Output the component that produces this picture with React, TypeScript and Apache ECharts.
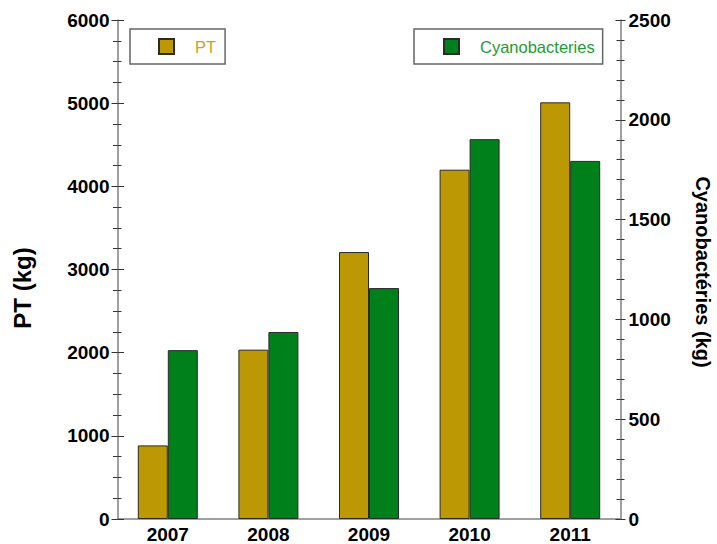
import React, { useEffect, useRef } from "react";
import * as echarts from "echarts";

const years = ["2007", "2008", "2009", "2010", "2011"];
const ptValues = [885, 2036, 3210, 4200, 5010];
const cyanoValues = [846, 937, 1157, 1903, 1794];
const leftTicks = { min: 0, max: 6000, interval: 1000 };
const rightTicks = { min: 0, max: 2500, interval: 500 };

const FONT = "Liberation Sans, Arial, sans-serif";
const PT_COLOR = "#bb9804";
const CY_COLOR = "#00801a";
const AXIS_COLOR = "#808080";

export default function App() {
  const ref = useRef<HTMLDivElement>(null);
  useEffect(() => {
    if (!ref.current) return;
    const chart = echarts.init(ref.current, null, { renderer: "svg" });
    const tickLabel = { fontFamily: FONT, fontSize: 19, fontWeight: "bold", color: "#000" };
    const mkY = (t: any, position: string, inside: boolean, labels: boolean, minorSplit: number, len: number, mlen: number, showLine: boolean) => ({
      type: "value",
      position,
      min: t.min,
      max: t.max,
      interval: t.interval,
      axisLine: { show: showLine, lineStyle: { color: AXIS_COLOR, width: 1.5 } },
      axisTick: { show: true, inside, length: len, lineStyle: { color: "#333", width: 1 } },
      minorTick: { show: true, splitNumber: minorSplit, length: mlen, lineStyle: { color: "#333", width: 1 } },
      axisLabel: { show: labels, margin: 8, formatter: (v: number) => String(v), ...tickLabel },
      splitLine: { show: false },
      minorSplitLine: { show: false },
    });
    chart.setOption({
      animation: false,
      backgroundColor: "#fff",
      grid: { left: 117.5, right: 96.5, top: 20, bottom: 25, containLabel: false },
      xAxis: {
        type: "category",
        data: years,
        axisLine: { show: true, lineStyle: { color: AXIS_COLOR, width: 1.5 } },
        axisTick: { show: false },
        axisLabel: { ...tickLabel, margin: 6 },
      },
      yAxis: [
        mkY(leftTicks, "left", false, true, 4, 6, 4.5, true),
        mkY(rightTicks, "right", false, true, 5, 5, 4, true),
        mkY(leftTicks, "left", true, false, 4, 6.5, 4, false),
        mkY(rightTicks, "right", true, false, 5, 5, 4, false),
      ],
      legend: [
        {
          data: ["PT"],
          left: 130,
          top: 29,
          orient: "horizontal",
          icon: "rect",
          itemWidth: 15,
          itemHeight: 15,
          padding: [9, 9, 9, 28],
          backgroundColor: "#fff",
          borderColor: "#666",
          borderWidth: 1.5,
          borderRadius: 0,
          textStyle: { color: "#c8a422", fontFamily: FONT, fontSize: 16.5, padding: [0, 0, 0, 16] },
        },
        {
          data: ["Cyanobacteries"],
          left: 414,
          top: 29,
          orient: "horizontal",
          icon: "rect",
          itemWidth: 15,
          itemHeight: 15,
          padding: [9, 8, 9, 29],
          backgroundColor: "#fff",
          borderColor: "#666",
          borderWidth: 1.5,
          borderRadius: 0,
          textStyle: { color: "#1f9a34", fontFamily: FONT, fontSize: 16.5, padding: [0, 0, 0, 16] },
        },
      ],
      series: [
        {
          name: "PT",
          type: "bar",
          yAxisIndex: 0,
          data: ptValues,
          barWidth: 30,
          barGap: "0%",
          itemStyle: { color: PT_COLOR, borderColor: "#2a2a2a", borderWidth: 1 },
        },
        {
          name: "Cyanobacteries",
          type: "bar",
          yAxisIndex: 1,
          data: cyanoValues,
          barWidth: 30,
          barGap: "0%",
          itemStyle: { color: CY_COLOR, borderColor: "#2a2a2a", borderWidth: 1 },
        },
      ],
      graphic: [
        {
          type: "text",
          x: 22,
          y: 288,
          rotation: Math.PI / 2,
          style: {
            text: "PT (kg)",
            fontFamily: FONT,
            fontSize: 24,
            fontWeight: "bold",
            fill: "#000",
            align: "center",
            verticalAlign: "middle",
          },
        },
        {
          type: "text",
          x: 703,
          y: 272,
          rotation: -Math.PI / 2,
          style: {
            text: "Cyanobactéries (kg)",
            fontFamily: FONT,
            fontSize: 20,
            fontWeight: "bold",
            fill: "#000",
            align: "center",
            verticalAlign: "middle",
          },
        },
      ],
    });
    return () => chart.dispose();
  }, []);
  return (
    <div
      ref={ref}
      style={{ position: "fixed", left: 0, top: 0, width: 717, height: 544, background: "#fff" }}
    />
  );
}
